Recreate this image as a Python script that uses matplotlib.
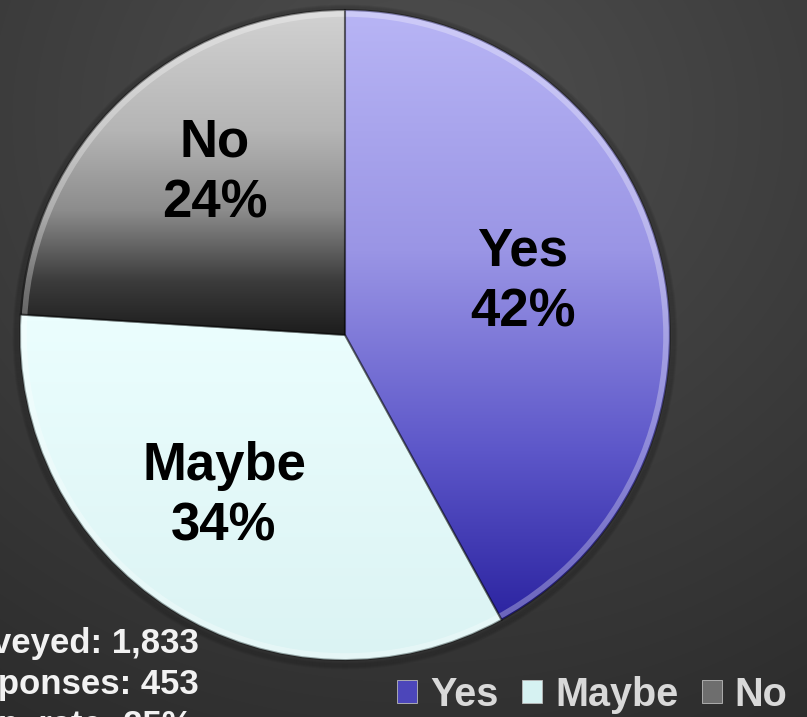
import numpy as np
import matplotlib.pyplot as plt
from matplotlib.colors import to_rgb
from matplotlib.patches import Rectangle, Circle

labels = ['Yes', 'Maybe', 'No']
shares = [42, 34, 24]
notes = ['Surveyed: 1,833', 'Responses: 453', 'Resp. rate: 25%']

# vertical colour ramps (pixel row from top, colour) for each slice
ramps = {
    'Yes': [(10, '#b8b5f5'), (250, '#9a95e5'), (450, '#5d57c9'), (620, '#2b23a0')],
    'Maybe': [(320, '#ebfefe'), (660, '#dbf3f3')],
    'No': [(10, '#d2d2d2'), (130, '#b5b5b5'), (210, '#8c8c8c'), (280, '#3c3c3c'), (330, '#1f1f1f')],
}
legend_colors = ['#4c46ba', '#d6f2f2', '#6e6e6e']

FONT = ['Liberation Sans', 'DejaVu Sans']
W, H = 807, 717
CX, CY, R = 345, H - 335, 325


def ramp_image(stops):
    rows = np.arange(H)[::-1]  # image rows from bottom (origin lower)
    ys = [s[0] for s in stops]
    cols = np.array([to_rgb(s[1]) for s in stops])
    img = np.stack([np.interp(rows, ys, cols[:, k]) for k in range(3)], axis=-1)
    return img[:, None, :]


fig = plt.figure(figsize=(W / 100, H / 100), dpi=100)
ax = fig.add_axes([0, 0, 1, 1])

# dark radial background
yy, xx = np.mgrid[0:H, 0:W]
d = np.hypot((xx - 420) / W, (yy - (H - 120)) / H)
lev = np.clip(0.31 - 0.14 * d, 0.17, 0.31)
bg = np.dstack([lev, lev, lev])
ax.imshow(bg, extent=(0, W, 0, H), origin='lower', zorder=0, aspect='auto')

# soft shadow round the pie
for k in range(6):
    ax.add_patch(Circle((CX, CY - 2), R + 1 + k, facecolor='none',
                        edgecolor=(0, 0, 0, 0.06), linewidth=2, zorder=1))

wedges, _ = ax.pie(shares, center=(CX, CY), radius=R, startangle=90,
                   counterclock=False, frame=True,
                   wedgeprops=dict(linewidth=1.5, edgecolor=(0, 0, 0, 0.35)))

for w, lab in zip(wedges, labels):
    w.set_facecolor('none')
    w.set_zorder(3)
    im = ax.imshow(ramp_image(ramps[lab]), extent=(0, W, 0, H), origin='lower',
                   zorder=2, aspect='auto')
    im.set_clip_path(w)
    # light bevel along the rim
    rim = Circle((CX, CY), R - 4, facecolor='none', edgecolor=(1, 1, 1, 0.3),
                 linewidth=4, zorder=2.5)
    ax.add_patch(rim)
    rim.set_clip_path(w)

# slice labels
label_r = {'Yes': 0.57, 'Maybe': 0.62, 'No': 0.64}
label_shift = {'Yes': 2.2, 'Maybe': -4.5, 'No': -4.3}
for w, lab, s in zip(wedges, labels, shares):
    mid = np.deg2rad((w.theta1 + w.theta2) / 2 + label_shift[lab])
    x = CX + label_r[lab] * R * np.cos(mid)
    y = CY + label_r[lab] * R * np.sin(mid)
    ax.text(x, y, f'{lab}\n{s}%', ha='center', va='center', fontsize=38,
            fontweight='bold', family=FONT, color='black', zorder=5,
            linespacing=1.28)

# survey notes, cut off at the left edge as in the original
ax.text(-66, H - 627, '\n'.join(notes), ha='left', va='top', fontsize=25,
        fontweight='bold', family=FONT, color='#f2f2f2', zorder=5,
        linespacing=1.3, clip_on=False)

ax.set_xlim(0, W)
ax.set_ylim(0, H)
ax.set_aspect('auto')
ax.axis('off')

handles = [Rectangle((0, 0), 1, 1, facecolor=c, edgecolor='#bbbbbb', linewidth=0.6)
           for c in legend_colors]
leg = fig.legend(handles, labels, loc='lower right', bbox_to_anchor=(1.02, -0.045),
                 ncol=3, frameon=False, handlelength=0.5, handleheight=0.5,
                 handletextpad=0.33, columnspacing=0.6,
                 prop=dict(family=FONT, weight='bold', size=28.5))
for t in leg.get_texts():
    t.set_color('#d9d9d9')

fig.savefig('out.png', dpi=100)
